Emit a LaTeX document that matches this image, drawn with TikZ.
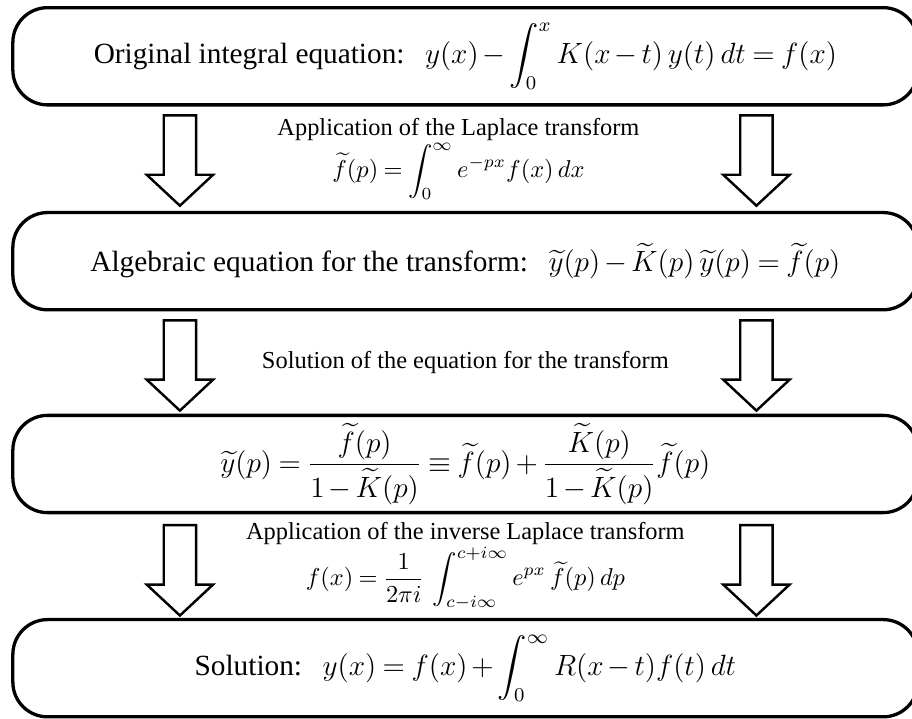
\documentclass[tikz,border=0pt]{standalone}
\usepackage[no-math]{fontspec}
\setmainfont{Liberation Serif}
\usepackage{amsmath}
\usetikzlibrary{shapes.arrows,calc}
\medmuskip=2.5mu plus 1mu minus 1mu
\thickmuskip=4mu plus 2mu

\begin{document}
\begin{tikzpicture}[
    stepBox/.style={rectangle,rounded corners=0.5cm,draw=black,line width=1.35pt,minimum width=13.03cm,minimum height=1.40cm,inner sep=0pt,font=\fontsize{12}{14.4}\selectfont},
    downArrow/.style={single arrow,draw=black,fill=white,line width=1pt,rotate=-90,anchor=tail,minimum height=1.30cm,inner sep=0.215cm,single arrow head extend=0.245cm,single arrow tip angle=94},
    stepLabel/.style={align=center,inner sep=0pt,font=\fontsize{10}{12}\selectfont},
]
\useasboundingbox (0,0) rectangle (13.13,-10.35);
% === boxes ===
\node[stepBox] (B1) at (6.70,-0.81) {Original integral equation:\hspace{0.7em}$y(x) - \displaystyle\int_0^x K(x-t)\,y(t)\,dt = f(x)$};
\node[stepBox] (B2) at (6.70,-3.76) {Algebraic equation for the transform:\hspace{0.7em}$\widetilde{y}(p) - \widetilde{K}(p)\,\widetilde{y}(p) = \widetilde{f}(p)$};
\node[stepBox] (B3) at (6.70,-6.68) {$\displaystyle \widetilde{y}(p) = \frac{\widetilde{f}(p)}{1-\widetilde{K}(p)} \equiv \widetilde{f}(p) + \frac{\widetilde{K}(p)}{1-\widetilde{K}(p)}\widetilde{f}(p)$};
\node[stepBox] (B4) at (6.70,-9.62) {Solution:\hspace{0.7em}$\displaystyle y(x) = f(x) + \int_0^\infty R(x-t)f(t)\,dt$};
% === arrows ===
\node[downArrow] (A1L) at ($(B1.south)+(-4.11,-0.11)$) {};
\node[downArrow] (A1R) at ($(B1.south)+(4.19,-0.11)$) {};
\node[downArrow] (A2L) at ($(B2.south)+(-4.11,-0.11)$) {};
\node[downArrow] (A2R) at ($(B2.south)+(4.19,-0.11)$) {};
\node[downArrow] (A3L) at ($(B3.south)+(-4.11,-0.14)$) {};
\node[downArrow] (A3R) at ($(B3.south)+(4.19,-0.14)$) {};
% === labels ===
\node[stepLabel] (L1) at ($(B1.south)!0.5!(B2.north)+(-0.1,0)$) {Application of the Laplace transform\\ $\widetilde{f}(p) = \displaystyle\int_0^\infty e^{-px} f(x)\,dx$};
\node[stepLabel] (L2) at ($(B2.south)!0.5!(B3.north)$) {Solution of the equation for the transform};
\node[stepLabel] (L3) at ($(B3.south)!0.5!(B4.north)$) {Application of the inverse Laplace transform\\ $f(x) = \dfrac{1}{2\pi i}\,\displaystyle\int_{c-i\infty}^{c+i\infty} e^{px}\,\widetilde{f}(p)\,dp$};
\end{tikzpicture}
\end{document}
